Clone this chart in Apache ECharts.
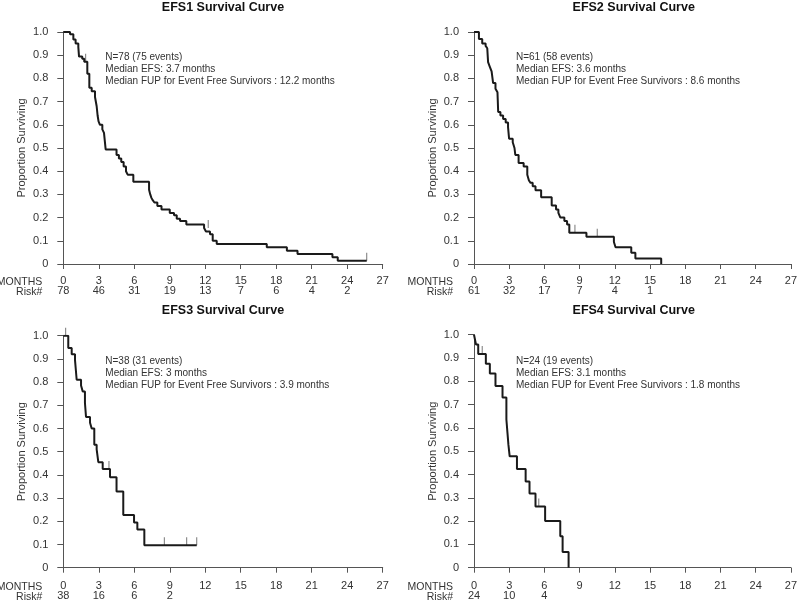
<!DOCTYPE html>
<html>
<head>
<meta charset="utf-8">
<script src="https://cdn.jsdelivr.net/npm/echarts@6/dist/echarts.min.js"></script>
<style>
  html, body { margin: 0; padding: 0; background: #fff; }
  #main { width: 800px; height: 602px; }
</style>
</head>
<body>
<div id="main"></div>
<script>
// month ticks and number at risk under each tick
var months = [0, 3, 6, 9, 12, 15, 18, 21, 24, 27];
var risk1 = [78, 46, 31, 19, 13, 7, 6, 4, 2];
var risk2 = [61, 32, 17, 7, 4, 1];
var risk3 = [38, 16, 6, 2];
var risk4 = [24, 10, 4];

// KM steps: at time t survival becomes s
var efs1Time = [0, 0.57, 0.85, 1.04, 1.27, 1.33, 1.6, 1.77, 2.03, 2.2, 2.4, 2.68, 2.82, 2.9, 2.98, 3.1, 3.3, 3.44, 3.58, 4.5, 4.7, 4.9, 5.1, 5.3, 5.44, 5.92, 6.3, 7.25, 7.35, 7.45, 7.56, 7.7, 7.95, 8.3, 9.0, 9.36, 9.59, 9.87, 10.4, 11.9, 12.06, 12.4, 12.63, 12.97, 17.2, 18.9, 19.8, 22.75, 23.2, 24.5, 25.65];
var efs1Surv = [1, 0.99, 0.968, 0.95, 0.935, 0.894, 0.885, 0.872, 0.82, 0.76, 0.745, 0.72, 0.68, 0.64, 0.615, 0.6, 0.58, 0.565, 0.494, 0.47, 0.455, 0.44, 0.42, 0.40, 0.385, 0.355, 0.355, 0.32, 0.30, 0.285, 0.275, 0.265, 0.25, 0.235, 0.22, 0.21, 0.195, 0.185, 0.17, 0.155, 0.14, 0.128, 0.1, 0.086, 0.072, 0.057, 0.043, 0.029, 0.014, 0.014, 0.014];
var efs1CensorT = [1.89, 12.25, 25.65];
var efs1CensorS = [0.872, 0.155, 0.014];

var efs2Time = [0, 0.42, 0.7, 0.99, 1.13, 1.2, 1.35, 1.5, 1.63, 1.83, 2.0, 2.06, 2.25, 2.48, 2.7, 2.9, 2.99, 3.3, 3.45, 3.52, 3.8, 4.23, 4.54, 4.68, 4.82, 5.0, 5.24, 5.72, 6.62, 6.99, 7.19, 7.36, 7.7, 7.93, 8.12, 9.58, 11.92, 12.06, 13.4, 13.75, 15.95];
var efs2Surv = [1, 0.97, 0.95, 0.94, 0.93, 0.87, 0.85, 0.83, 0.78, 0.755, 0.74, 0.655, 0.64, 0.625, 0.61, 0.59, 0.54, 0.525, 0.5, 0.47, 0.435, 0.42, 0.385, 0.36, 0.35, 0.335, 0.318, 0.288, 0.252, 0.235, 0.22, 0.2, 0.185, 0.17, 0.135, 0.117, 0.095, 0.072, 0.048, 0.024, 0];
var efs2CensorT = [8.6, 10.5];
var efs2CensorS = [0.135, 0.117];

var efs3Time = [0, 0.42, 0.71, 0.99, 1.13, 1.5, 1.64, 1.83, 1.92, 2.26, 2.4, 2.62, 2.82, 2.96, 3.33, 3.95, 4.5, 5.07, 5.98, 6.26, 6.85, 11.28];
var efs3Surv = [1, 0.947, 0.92, 0.895, 0.81, 0.785, 0.76, 0.71, 0.65, 0.625, 0.6, 0.53, 0.51, 0.455, 0.425, 0.39, 0.328, 0.227, 0.195, 0.165, 0.097, 0.097];
var efs3CensorT = [0.2, 3.86, 8.54, 10.43, 11.28];
var efs3CensorS = [1, 0.425, 0.097, 0.097, 0.097];

var efs4Time = [0, 0.17, 0.36, 1.01, 1.35, 1.83, 2.43, 2.76, 2.85, 2.93, 3.04, 3.66, 4.4, 4.73, 5.24, 6.06, 7.35, 7.55, 8.06];
var efs4Surv = [1, 0.958, 0.917, 0.875, 0.833, 0.78, 0.73, 0.636, 0.58, 0.529, 0.478, 0.424, 0.37, 0.318, 0.263, 0.2, 0.135, 0.067, 0];
var efs4CensorT = [0.7, 5.52];
var efs4CensorS = [0.917, 0.263];

var titles = ["EFS1 Survival Curve", "EFS2 Survival Curve", "EFS3 Survival Curve", "EFS4 Survival Curve"];
var notes = [
	["N=78 (75 events)", "Median EFS: 3.7 months", "Median FUP for Event Free Survivors : 12.2 months"],
	["N=61 (58 events)", "Median EFS: 3.6 months", "Median FUP for Event Free Survivors : 8.6 months"],
	["N=38 (31 events)", "Median EFS: 3 months", "Median FUP for Event Free Survivors : 3.9 months"],
	["N=24 (19 events)", "Median EFS: 3.1 months", "Median FUP for Event Free Survivors : 1.8 months"]
];

var FONT = "Arial, 'Liberation Sans', sans-serif";
var TXT = "#333";
var AX = "#555";

function pairs(t, s){
	return t.map(function(v, i){ return [v, s[i]]; });
}

var panels = [
	{ left: 63.3, top: 32, h: 232, off: 4, risk: risk1, line: pairs(efs1Time, efs1Surv), cens: pairs(efs1CensorT, efs1CensorS) },
	{ left: 474, top: 32, h: 232, off: 4, risk: risk2, line: pairs(efs2Time, efs2Surv), cens: pairs(efs2CensorT, efs2CensorS) },
	{ left: 63.3, top: 335.7, h: 232, off: 5, risk: risk3, line: pairs(efs3Time, efs3Surv), cens: pairs(efs3CensorT, efs3CensorS) },
	{ left: 474, top: 334.7, h: 233, off: 5, risk: risk4, line: pairs(efs4Time, efs4Surv), cens: pairs(efs4CensorT, efs4CensorS) }
];

var grid = [], xAxis = [], yAxis = [], series = [], title = [], graphic = [];

panels.forEach(function(p, i){
	grid.push({ left: p.left, top: p.top, width: 319.4, height: p.h });
	xAxis.push({
		gridIndex: i, type: "value", min: 0, max: 27, interval: 3, offset: p.off,
		axisLine: { lineStyle: { color: AX, width: 1 } },
		axisTick: { length: 5, lineStyle: { color: AX } },
		splitLine: { show: false },
		axisLabel: {
			color: TXT, fontSize: 11, fontFamily: FONT, margin: 8, lineHeight: 10,
			formatter: function(v){
				var r = p.risk[months.indexOf(v)];
				return v + "\n" + (r !== undefined ? r : " ");
			}
		}
	});
	yAxis.push({
		gridIndex: i, type: "value", min: 0, max: 1, interval: 0.1, offset: 6,
		name: "Proportion Surviving", nameLocation: "middle", nameGap: 30,
		nameTextStyle: { color: TXT, fontSize: 11, fontFamily: FONT },
		axisLine: { show: true, lineStyle: { color: AX, width: 1 } },
		axisTick: { show: true, length: 6, lineStyle: { color: AX } },
		splitLine: { show: false },
		axisLabel: {
			color: TXT, fontSize: 11, fontFamily: FONT, margin: 9,
			formatter: function(v){ return v === 0 ? "0" : v.toFixed(1); }
		}
	});
	series.push({
		type: "line", xAxisIndex: i, yAxisIndex: i, step: "end", symbol: "none",
		data: p.line, lineStyle: { color: "#1a1a1a", width: 2 }, z: 3
	});
	series.push({
		type: "scatter", xAxisIndex: i, yAxisIndex: i, symbol: "rect",
		symbolSize: [1, 8], symbolOffset: [0, -4], data: p.cens,
		itemStyle: { color: "#555" }, z: 2
	});
	var cx = p.left + 159.7;
	title.push({
		text: titles[i], left: cx, top: i < 2 ? 1 : 304, textAlign: "center", padding: 0,
		textStyle: { fontSize: 12.5, fontWeight: "bold", color: "#111", fontFamily: FONT }
	});
	graphic.push({
		type: "text", left: p.left + 42, top: (i < 2 ? 51 : 355),
		style: { text: notes[i].join("\n"), fill: TXT, font: "10px " + FONT, lineHeight: 12 }
	});
	var axisY = p.top + p.h + p.off;
	graphic.push({
		type: "text", x: p.left - 21, y: axisY + 9,
		style: { text: "MONTHS\nRisk#", fill: TXT, font: "10.5px " + FONT, lineHeight: 10, align: "right", verticalAlign: "top" }
	});
});

var myChart = echarts.init(document.getElementById("main"));
myChart.setOption({
	animation: false,
	title: title,
	grid: grid,
	xAxis: xAxis,
	yAxis: yAxis,
	series: series,
	graphic: graphic
});
</script>
</body>
</html>
